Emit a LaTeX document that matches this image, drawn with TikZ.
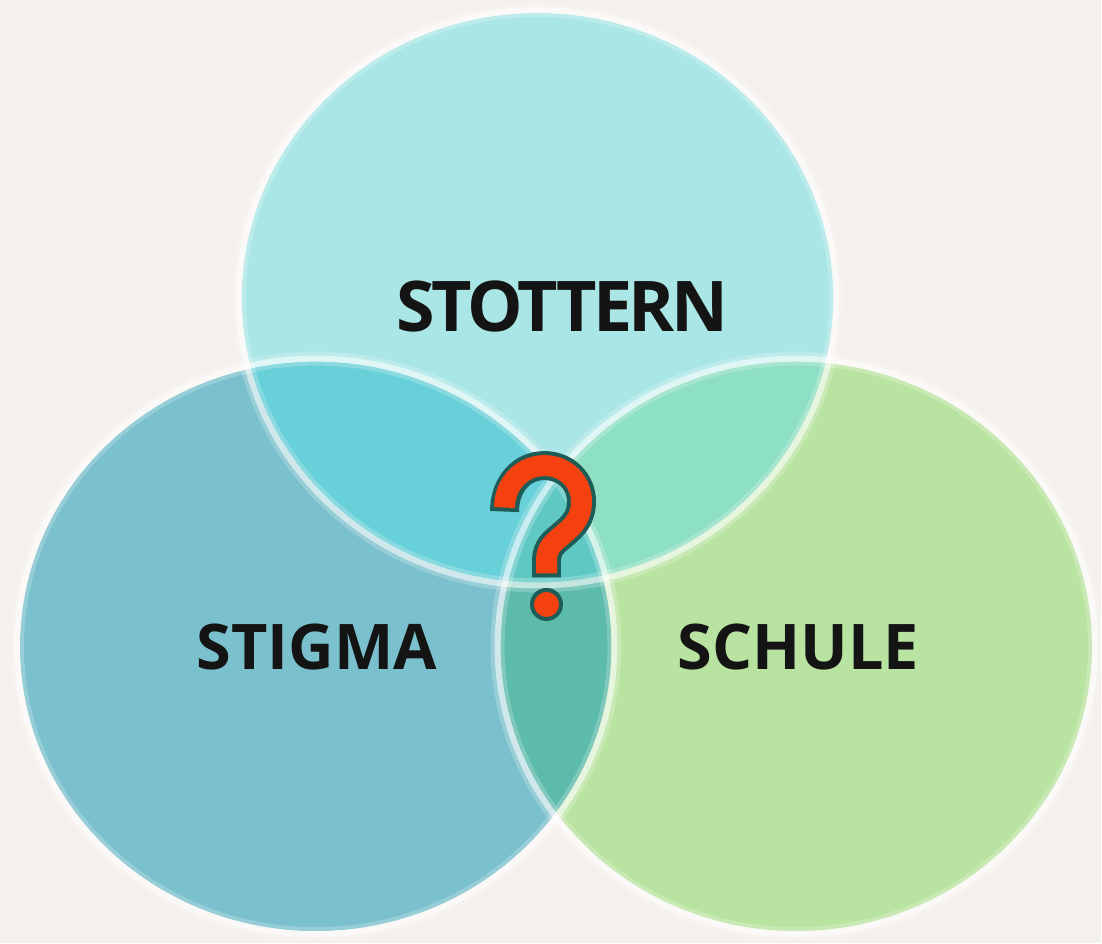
\documentclass[tikz,border=0pt]{standalone}
\usepackage{fontspec}
\setmainfont{Open Sans}
\newfontfamily\tightsans[LetterSpace=-5]{Open Sans}
\usepackage{xcolor}
\usepackage{tikz}
\usetikzlibrary{positioning}
\definecolor{bgcol}{HTML}{F4F0EB}
\definecolor{topcol}{HTML}{AAE6E6}
\definecolor{leftcol}{HTML}{7AC0CD}
\definecolor{rightcol}{HTML}{B9E3A0}
\definecolor{tlcol}{HTML}{68D0D8}
\definecolor{trcol}{HTML}{8EE0C4}
\definecolor{lrcol}{HTML}{5CBBAA}
\definecolor{midcol}{HTML}{5FC8C3}
\definecolor{qcol}{HTML}{F5400F}
\definecolor{qline}{HTML}{1E5C58}
\tikzstyle{disc} = [x radius=296, y radius=285]
\tikzstyle{rimsize} = [x radius=299, y radius=288]
\tikzstyle{rim} = [draw=white, line width=6pt, opacity=0.55]
\tikzstyle{glow} = [draw=white, line width=14pt, opacity=0.22]
\tikzstyle{vlabel} = [font=\bfseries\fontsize{63}{70}\selectfont, text=black!92, inner sep=0pt, anchor=base]
\newcommand\topring{(top) ellipse [disc]}
\newcommand\leftring{(left) ellipse [disc]}
\newcommand\rightring{(right) ellipse [disc]}

\begin{document}
\begin{tikzpicture}[x=1pt, y=-1pt]
    % Hintergrund
    \fill[bgcol] (0,0) rectangle (1102,944);
    \coordinate (top) at (538,298);
    \coordinate (left) at (316,647);
    \coordinate (right) at (797,647);

    % Kreise
    \fill[topcol] \topring;
    \fill[leftcol] \leftring;
    \fill[rightcol] \rightring;

    % Schnittflaechen
    \begin{scope}
        \clip \topring;
        \fill[tlcol] \leftring;
        \fill[trcol] \rightring;
    \end{scope}
    \begin{scope}
        \clip \leftring;
        \fill[lrcol] \rightring;
    \end{scope}
    \begin{scope}
        \clip \topring;
        \clip \leftring;
        \fill[midcol] \rightring;
    \end{scope}

    % Raender
    \foreach \c in {top, left, right} {
        \draw[glow] (\c) ellipse [rimsize];
        \draw[rim] (\c) ellipse [rimsize];
    }

    % Beschriftung
    \node (stottern) [vlabel, font=\tightsans\bfseries\fontsize{70}{80}\selectfont] at (563,332) {STOTTERN};
    \node (stigma) [vlabel] at (317,670) {STIGMA};
    \node (schule) [vlabel] at (799,670) {SCHULE};

    % Fragezeichen
    \draw[qline, line width=29pt] (505,512) .. controls (505,485) and (522,466) .. (545,466) .. controls (566,466) and (582,482) .. (582,502) .. controls (582,522) and (569,530) .. (560,538) .. controls (550,546) and (547,552) .. (547,562) -- (547,578);
    \draw[qcol, line width=21pt] (505,508) .. controls (505,485) and (522,466) .. (545,466) .. controls (566,466) and (582,482) .. (582,502) .. controls (582,522) and (569,530) .. (560,538) .. controls (550,546) and (547,552) .. (547,562) -- (547,574);
    \filldraw[fill=qcol, draw=qline, line width=4pt] (547,605) circle (14.5);
\end{tikzpicture}
\end{document}
